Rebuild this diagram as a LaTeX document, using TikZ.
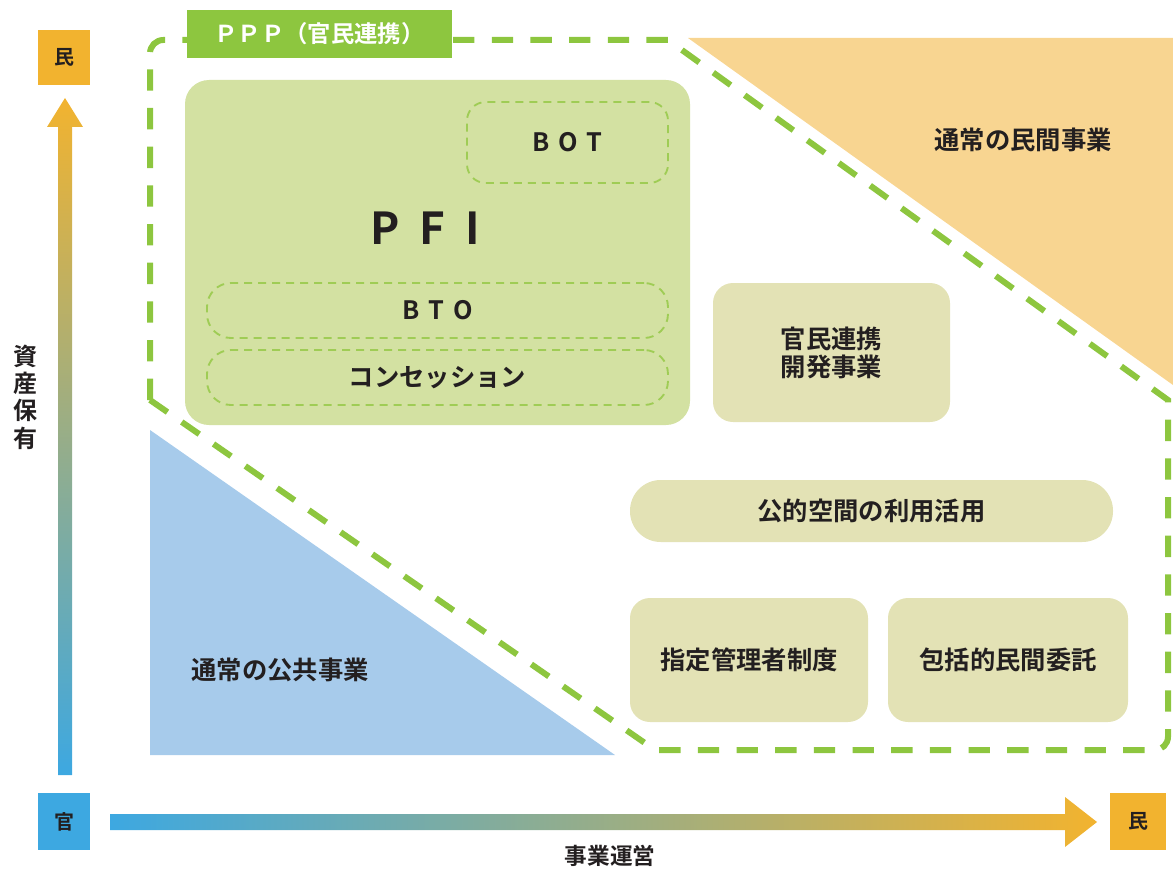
\documentclass[tikz,border=0pt]{standalone}
\usepackage{fontspec}
\setmainfont{Noto Sans CJK JP}[BoldFont={* Bold}]
\usetikzlibrary{shapes.misc}
\definecolor{pppgreen}{HTML}{8DC63F}
\definecolor{innergreen}{HTML}{9FCC55}
\definecolor{pfifill}{HTML}{D3E1A2}
\definecolor{beige}{HTML}{E3E2B5}
\definecolor{orangetri}{HTML}{F8D591}
\definecolor{bluetri}{HTML}{A7CBEB}
\definecolor{axorange}{HTML}{F2B32F}
\definecolor{axblue}{HTML}{3DA8E1}
\definecolor{txt}{HTML}{231F20}
\tikzset{
  lbl/.style={font=\bfseries\fontsize{19}{23}\selectfont, text=txt, align=center},
  beigebox/.style={fill=beige, rounded corners=15pt, inner sep=0pt, outer sep=0pt, lbl},
  innerdash/.style={draw=innergreen, line width=1.4pt, dash pattern=on 6pt off 4.5pt, rounded corners=14pt, inner sep=0pt, outer sep=0pt},
  axbox/.style={inner sep=0pt, outer sep=0pt, font=\bfseries\fontsize{15}{18}\selectfont, text=txt},
}
\begin{document}
\begin{tikzpicture}[x=0.75pt,y=-0.75pt]
\useasboundingbox (0,0) rectangle (1173,870);
% triangles
\fill[orangetri] (688,38) -- (1173,38) -- (1173,385) -- cycle;
\fill[bluetri] (150,430) -- (150,755) -- (615,755) -- cycle;
% PPP dashed outline
\draw[pppgreen, line width=4.5pt, dash pattern=on 16pt off 13pt]
  (150,400) [rounded corners=10pt] -- (150,40) [sharp corners] -- (668,40) -- (1168,400)
  [rounded corners=10pt] -- (1168,750) [sharp corners] -- (655,750) -- cycle;
% PPP label
\node[fill=pppgreen, minimum width=198.75pt, minimum height=36pt, inner sep=0pt, outer sep=0pt,
  text=white, font=\bfseries\fontsize{17.5}{20}\selectfont] (ppp) at (319.5,34) {ＰＰＰ（官民連携）};
% PFI box
\node[fill=pfifill, rounded corners=18pt, minimum width=378.75pt, minimum height=258.75pt, inner sep=0pt, outer sep=0pt] (pfibox) at (437.5,252.5) {};
\node[font=\bfseries\fontsize{33}{36}\selectfont, text=txt] (pfi) at (425,228) {P\hspace{0.45em}F\hspace{0.45em}I};
\node[innerdash, minimum width=150.75pt, minimum height=60.75pt, lbl] (bot) at (567.5,142.5) {B\hspace{0.35em}O\hspace{0.35em}T};
\node[innerdash, rounded corners=18pt, minimum width=345.75pt, minimum height=41.25pt, lbl] (bto) at (437.5,310.5) {B\hspace{0.35em}T\hspace{0.35em}O};
\node[innerdash, rounded corners=18pt, minimum width=345.75pt, minimum height=41.25pt, lbl] (conc) at (437.5,377.5) {コンセッション};
% beige boxes
\node[beigebox, minimum width=177.75pt, minimum height=104.25pt] (kmr) at (831.5,352.5) {官民連携\\[-2pt]開発事業};
\node[beigebox, rounded corners=23pt, minimum width=362.25pt, minimum height=46.5pt] (kou) at (871.5,511) {公的空間の利用活用};
\node[beigebox, minimum width=178.5pt, minimum height=93pt] (shitei) at (749,660) {指定管理者制度};
\node[beigebox, minimum width=180pt, minimum height=93pt] (hokatsu) at (1008,660) {包括的民間委託};
% triangle labels
\node[lbl] (minkan) at (1023,140) {通常の民間事業};
\node[lbl] (koukyou) at (280,670) {通常の公共事業};
% axes
\shade[bottom color=axblue, top color=axorange]
  (58,775) -- (58,127) -- (47,127) -- (65,98) -- (83,127) -- (72,127) -- (72,775) -- cycle;
\shade[left color=axblue, right color=axorange]
  (110,814) -- (1065,814) -- (1065,797) -- (1097,822) -- (1065,847) -- (1065,830) -- (110,830) -- cycle;
\node[axbox, fill=axorange, minimum width=39pt, minimum height=41.25pt] (mintop) at (64,57.5) {民};
\node[axbox, fill=axblue, minimum width=39pt, minimum height=42.75pt] (kan) at (64,821.5) {官};
\node[axbox, fill=axorange, minimum width=42pt, minimum height=42.75pt] (minright) at (1138,821.5) {民};
\node[font=\bfseries\fontsize{17}{20}\selectfont, text=txt] (jigyou) at (610,856) {事業運営};
\node[font=\bfseries\fontsize{18}{20.5}\selectfont, text=txt, align=center] (shisan) at (25,397) {資\\産\\保\\有};
\end{tikzpicture}
\end{document}
